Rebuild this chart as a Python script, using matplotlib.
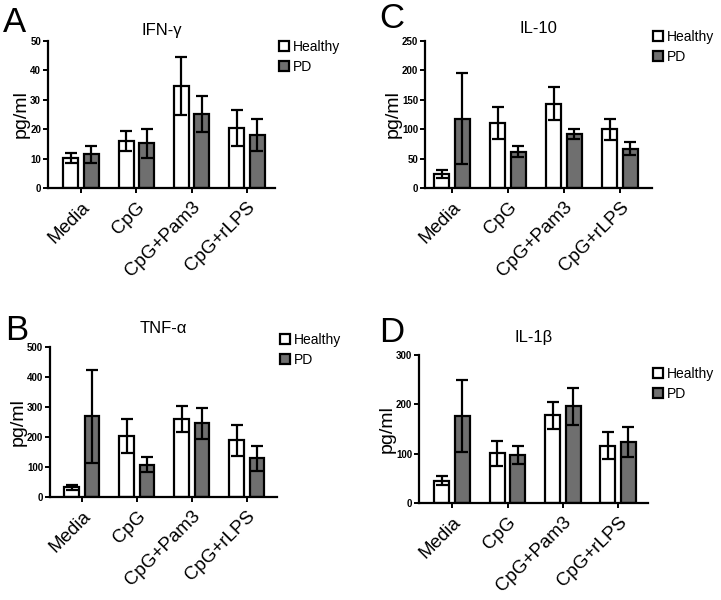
import matplotlib.pyplot as plt
import numpy as np

plt.rcParams['font.family'] = ['Liberation Sans', 'DejaVu Sans']

# Data (mean and error bar half-length)
stimuli = ['Media', 'CpG', 'CpG+Pam3', 'CpG+rLPS']

ifng_healthy = [10.1, 16.1, 34.8, 20.4]
ifng_healthy_err = [1.7, 3.4, 9.8, 6.0]
ifng_pd = [11.4, 15.2, 25.1, 18.0]
ifng_pd_err = [2.8, 5.0, 6.2, 5.3]

tnfa_healthy = [33, 203, 260, 189]
tnfa_healthy_err = [8, 56, 42, 52]
tnfa_pd = [270, 108, 246, 129]
tnfa_pd_err = [155, 24, 51, 42]

il10_healthy = [24, 111, 143, 100]
il10_healthy_err = [7, 27, 28, 18]
il10_pd = [118, 62, 92, 67]
il10_pd_err = [77, 10, 9, 11]

il1b_healthy = [45, 101, 178, 116]
il1b_healthy_err = [9, 25, 27, 27]
il1b_pd = [176, 98, 196, 124]
il1b_pd_err = [73, 18, 37, 30]

W, H = 721, 600
fig = plt.figure(figsize=(W / 100, H / 100), dpi=100)

# letter, title, data, y range, axes box in px (left, top, right, bottom), xlim,
# letter position, title baseline, legend corner
panels = [
    ('A', 'IFN-γ', ifng_healthy, ifng_healthy_err, ifng_pd, ifng_pd_err, 50, 10,
     (48, 41, 275, 188), (-0.6, 3.51), (3, 32), 35, (279, 40)),
    ('C', 'IL-10', il10_healthy, il10_healthy_err, il10_pd, il10_pd_err, 250, 50,
     (425, 41, 652, 188), (-0.48, 3.57), (379, 28), 33, (653, 30)),
    ('B', 'TNF-α', tnfa_healthy, tnfa_healthy_err, tnfa_pd, tnfa_pd_err, 500, 100,
     (50, 347, 277, 497), (-0.58, 3.55), (5, 340), 333, (280, 333)),
    ('D', 'IL-1β', il1b_healthy, il1b_healthy_err, il1b_pd, il1b_pd_err, 300, 100,
     (419, 355, 648, 503), (-0.6, 3.54), (379, 342), 342, (653, 367)),
]

x = np.arange(len(stimuli))
w = 0.27
off = 0.185

for letter, title, hv, he, pv, pe, ymax, ystep, box, xlim, lpos, tbase, legpos in panels:
    l, t, r, b = box
    ax = fig.add_axes([l / W, 1 - b / H, (r - l) / W, (b - t) / H])
    ekw = dict(elinewidth=1.6, capthick=1.6, capsize=4, ecolor='black')
    h = ax.bar(x - off, hv, w, yerr=he, color='white', edgecolor='black',
               linewidth=1.6, error_kw=ekw, label='Healthy')
    p = ax.bar(x + off, pv, w, yerr=pe, color='#6f6f6f', edgecolor='black',
               linewidth=1.6, error_kw=ekw, label='PD')
    ax.set_xlim(*xlim)
    ax.set_ylim(0, ymax)
    ax.set_yticks(np.arange(0, ymax + 1, ystep))
    ax.set_xticks(x)
    ax.set_xticklabels(stimuli, rotation=45, ha='right', rotation_mode='anchor', fontsize=13.5)
    for lab in ax.get_yticklabels():
        lab.set_fontsize(7)
        lab.set_fontweight('bold')
    ax.tick_params(axis='both', direction='out', width=1.4, length=3.5, pad=1.5)
    ax.tick_params(axis='x', pad=4)
    ax.spines['top'].set_visible(False)
    ax.spines['right'].set_visible(False)
    ax.spines['left'].set_linewidth(1.6)
    ax.spines['bottom'].set_linewidth(1.6)
    ax.set_ylabel('pg/ml', fontsize=14, labelpad=0)

    fig.text(lpos[0] / W, 1 - lpos[1] / H, letter, fontsize=25, ha='left', va='baseline')
    fig.text((l + r) / 2 / W, 1 - tbase / H, title, fontsize=12, ha='center', va='baseline')

    fig.legend(handles=[h, p], labels=['Healthy', 'PD'], loc='upper left',
               bbox_to_anchor=(legpos[0] / W, 1 - legpos[1] / H),
               frameon=False, fontsize=10, handlelength=0.75, handleheight=0.75,
               handletextpad=0.25, borderpad=0, borderaxespad=0, labelspacing=0.45)

fig.savefig('out.png', dpi=100)
